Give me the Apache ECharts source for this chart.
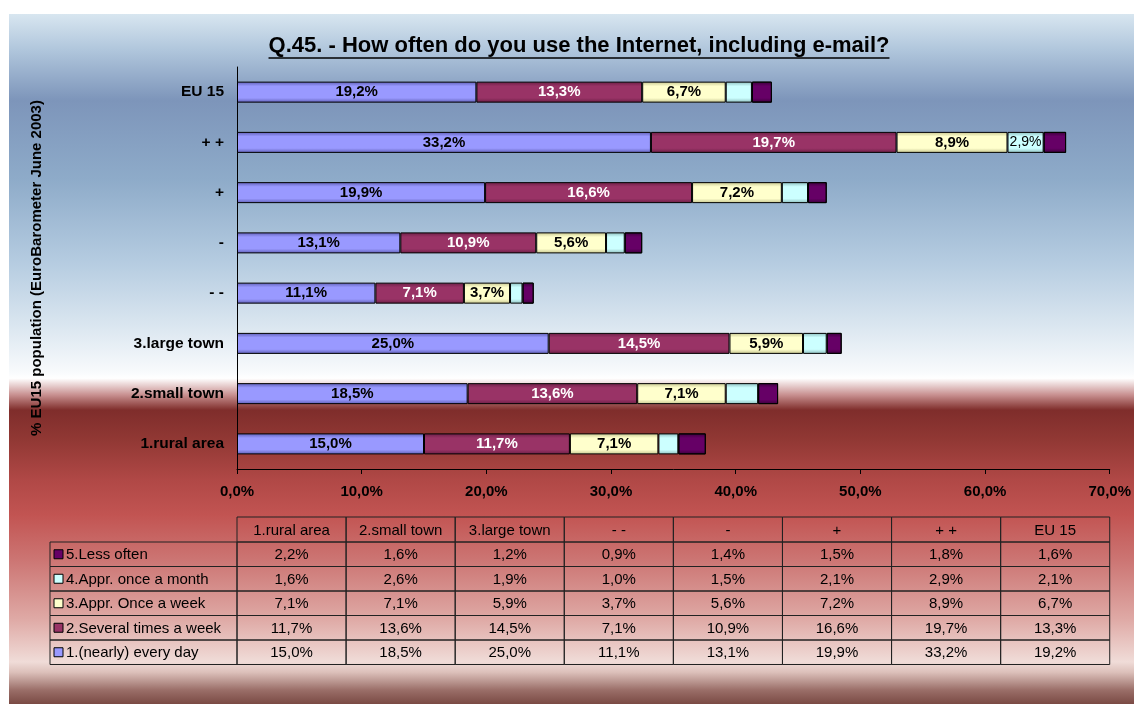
<!DOCTYPE html>
<html><head><meta charset="utf-8">
<script src="https://cdn.jsdelivr.net/npm/echarts@6/dist/echarts.min.js"></script>
<style>
html,body{margin:0;padding:0;background:#fff;overflow:hidden;}
#bg{position:absolute;left:9px;top:14px;width:1125px;height:690px;
background:linear-gradient(to bottom,
#d8e6f0 0%, #b0c6dc 5.2%, #7d95ba 12.5%, #8eabc9 24%, #b4cbe0 35.7%, #dde8f1 45.8%, #f8fafc 51.9%, #ffffff 52.8%,
#c89090 55.2%, #7f2d2b 57.4%, #913834 61.7%, #b04846 67.5%, #c25452 72.6%, #cc7573 79.1%, #dfaaa6 87.8%,
#f0dcd8 93.9%, #dcc0ba 95.4%, #9a6e68 98%, #7a4a44 100%);}
#chart{position:absolute;left:0;top:0;width:1134px;height:704px;}
</style></head><body>
<div id="bg"></div><div id="chart"></div>
<script>
const categories = ['1.rural area','2.small town','3.large town','- -','-','+','+ +','EU 15'];
const seriesNames = ['1.(nearly) every day','2.Several times a week','3.Appr. Once a week','4.Appr. once a month','5.Less often'];
const everyDay    = [15.0,18.5,25.0,11.1,13.1,19.9,33.2,19.2];
const severalWeek = [11.7,13.6,14.5,7.1,10.9,16.6,19.7,13.3];
const onceWeek    = [7.1,7.1,5.9,3.7,5.6,7.2,8.9,6.7];
const onceMonth   = [1.6,2.6,1.9,1.0,1.5,2.1,2.9,2.1];
const lessOften   = [2.2,1.6,1.2,0.9,1.4,1.5,1.8,1.6];
const xTicks = [0,10,20,30,40,50,60,70];
const titleText = 'Q.45. - How often do you use the Internet, including e-mail?';
const yAxisTitle = '% EU15 population (EuroBarometer June 2003)';

const seriesData = [everyDay, severalWeek, onceWeek, onceMonth, lessOften];
const colors = ['#9999ff','#993366','#ffffcc','#ccffff','#660066'];
const darks  = ['#5e5eb4','#6a1f45','#c4c48e','#8cbcbc','#3a003a'];
const labelColors = ['#000','#fff','#000','#000','#000'];

const SANS = "'Liberation Sans',Arial,sans-serif";
const fmt = v => v.toFixed(1).replace('.', ',') + '%';

function grad(c, d){
  return new echarts.graphic.LinearGradient(0,0,0,1,[
    {offset:0,color:d},{offset:0.22,color:c},{offset:0.78,color:c},{offset:1,color:d}]);
}

const chart = echarts.init(document.getElementById('chart'), null, {renderer:'canvas'});

const series = seriesData.map((arr, i) => ({
  name: seriesNames[i], type:'bar', stack:'s', barWidth: 21,
  data: arr,
  itemStyle: {color: grad(colors[i], darks[i]), borderColor:'#000', borderWidth:1},
  label: {
    show: i < 4, position:'inside', color: labelColors[i],
    fontFamily: SANS, fontWeight: i === 3 ? 'normal' : 'bold', fontSize: i === 3 ? 14 : 15,
    formatter: p => (i === 3 && p.value < 2.8) ? '' : fmt(p.value)
  },
  emphasis: {disabled:true}, animation:false
}));

chart.setOption({
  animation:false,
  backgroundColor:'transparent',
  grid:{left:237, right:23, top:67, bottom:235, containLabel:false},
  xAxis:{type:'value', min:0, max:70, interval:10,
    axisLine:{show:true, lineStyle:{color:'#000', width:1}},
    axisTick:{show:true, length:5, lineStyle:{color:'#000'}},
    splitLine:{show:false},
    axisLabel:{formatter: v => fmt(v), color:'#000', fontFamily:SANS, fontWeight:'bold', fontSize:15, margin:15}},
  yAxis:{type:'category', data:categories,
    axisLine:{show:true, lineStyle:{color:'#000', width:1}},
    axisTick:{show:false},
    axisLabel:{color:'#000', fontFamily:SANS, fontWeight:'bold', fontSize:15.5, margin:13}},
  series: series
});

function measure(text, font){
  const c = document.createElement('canvas').getContext('2d');
  c.font = font; return c.measureText(text).width;
}
const x0 = chart.convertToPixel({xAxisIndex:0}, 0);
const x1 = chart.convertToPixel({xAxisIndex:0}, 70);
const colW = (x1 - x0) / categories.length;
const tableTop = 517, headH = 25, rowH = 24.5, firstColX = 50;
const g = [];
const titleFont = "bold 22px 'Liberation Sans',Arial,sans-serif";
const tw = measure(titleText, titleFont);
const tcx = 579, tcy = 46;
g.push({type:'text', x:tcx, y:tcy, style:{text:titleText, font:titleFont, fill:'#000', align:'center', verticalAlign:'middle'}});
g.push({type:'line', shape:{x1:tcx - tw/2, y1:tcy+12, x2:tcx + tw/2, y2:tcy+12}, style:{stroke:'#000', lineWidth:1.5}});
g.push({type:'text', x:37, y:268, rotation:Math.PI/2, style:{text:yAxisTitle, font:"bold 15px 'Liberation Sans',Arial,sans-serif", fill:'#000', align:'center', verticalAlign:'middle'}});

const lineStyle = {stroke:'#222', lineWidth:1};
const cellFont = "15px 'Liberation Sans',Arial,sans-serif";
for (let c = 0; c < categories.length; c++){
  const x = x0 + c*colW;
  g.push({type:'rect', shape:{x:x, y:tableTop, width:colW, height:headH}, style:{fill:'none', ...lineStyle}});
  g.push({type:'text', x:x+colW/2, y:tableTop+headH/2+1, style:{text:categories[c], font:cellFont, fill:'#000', align:'center', verticalAlign:'middle'}});
}
for (let r = 0; r < seriesData.length; r++){
  const si = seriesData.length - 1 - r;
  const y = tableTop + headH + r*rowH;
  g.push({type:'rect', shape:{x:firstColX, y:y, width:x0-firstColX, height:rowH}, style:{fill:'none', ...lineStyle}});
  g.push({type:'rect', shape:{x:firstColX+4, y:y+rowH/2-4.5, width:9, height:9}, style:{fill:colors[si], stroke:'#000', lineWidth:1}});
  g.push({type:'text', x:firstColX+16, y:y+rowH/2+1, style:{text:seriesNames[si], font:cellFont, fill:'#000', align:'left', verticalAlign:'middle'}});
  for (let c = 0; c < categories.length; c++){
    const x = x0 + c*colW;
    g.push({type:'rect', shape:{x:x, y:y, width:colW, height:rowH}, style:{fill:'none', ...lineStyle}});
    g.push({type:'text', x:x+colW/2, y:y+rowH/2+1, style:{text:fmt(seriesData[si][c]), font:cellFont, fill:'#000', align:'center', verticalAlign:'middle'}});
  }
}
chart.setOption({graphic:{elements:g}});
</script>
</body></html>
